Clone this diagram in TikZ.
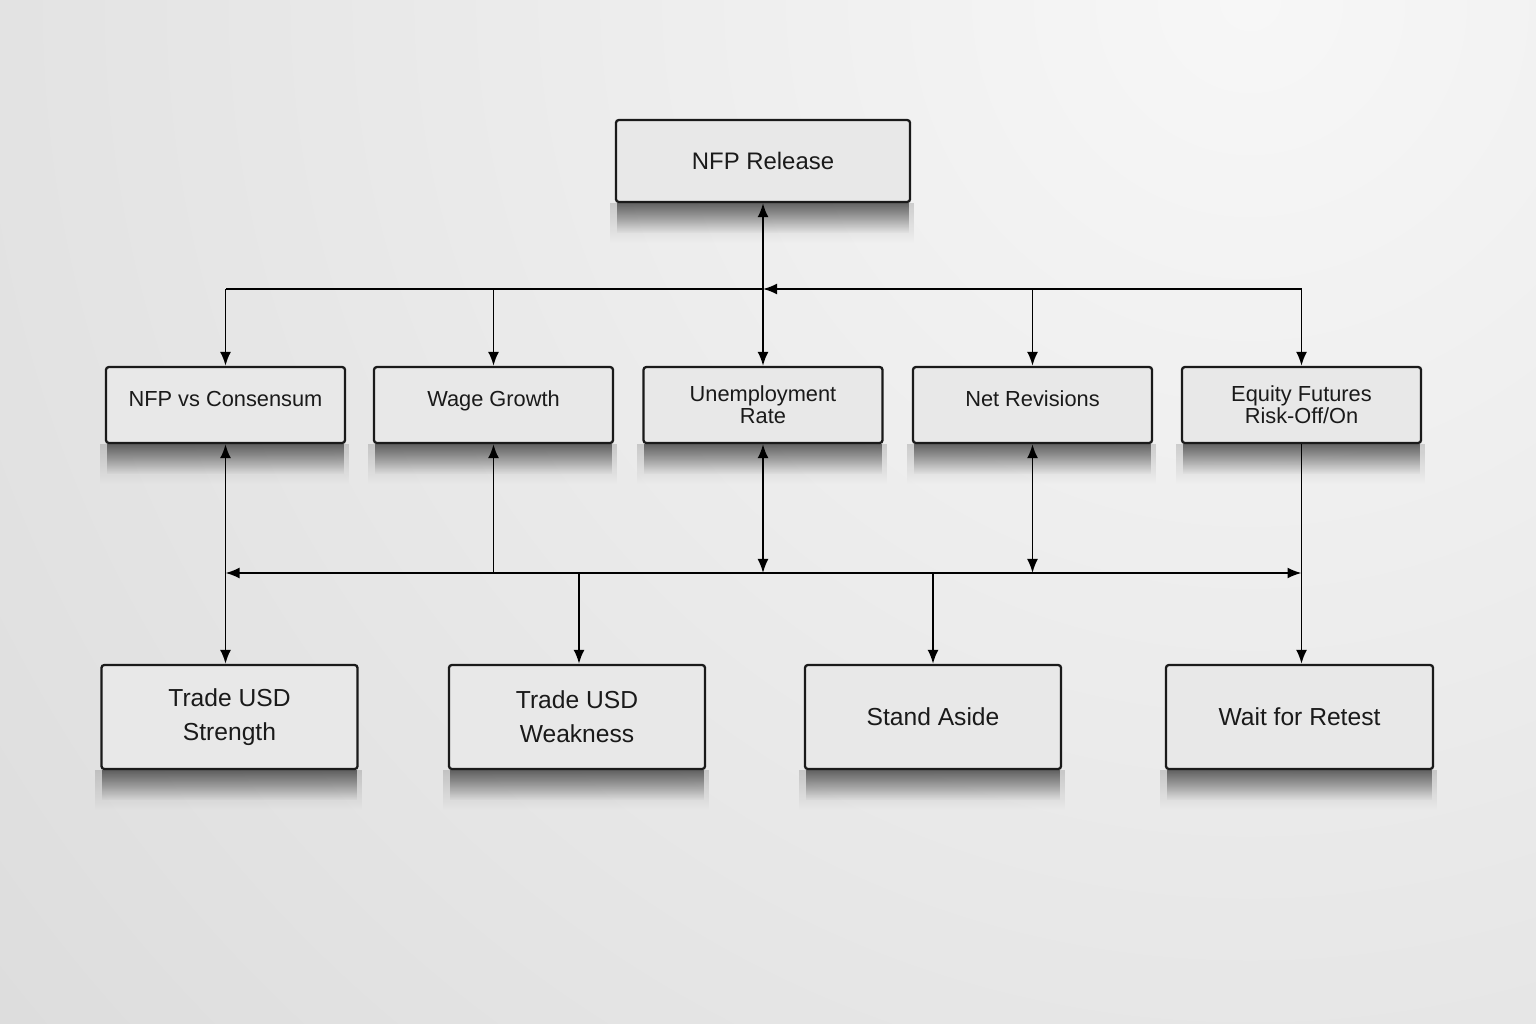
\documentclass[tikz,border=0pt]{standalone}
\usepackage{fontspec}
\setmainfont{Liberation Sans}
\usetikzlibrary{arrows.meta,fadings}
\definecolor{paper}{HTML}{CDCDCD}
\definecolor{paperlight}{HTML}{F7F7F7}
\definecolor{boxfill}{HTML}{E8E8E8}
\definecolor{ink}{HTML}{1A1A1A}
\begin{document}
\begin{tikzpicture}[x=0.01cm,y=-0.01cm,>={Latex[length=0.14cm,width=0.11cm]},line width=0.55pt,
    card/.style={draw=ink,line width=0.65pt,fill=boxfill,rounded corners=0.03cm,align=center,text=ink,inner sep=0pt},
    factor/.style={card,minimum width=2.39cm,minimum height=0.76cm,font=\fontsize{6.2}{6.3}\selectfont},
    oneline/.style={text depth=0.12cm},
    action/.style={card,minimum width=2.56cm,minimum height=1.04cm,font=\fontsize{7}{9.6}\selectfont},
    shade below/.style={fill=black,opacity=0.5,path fading=south},
    shade halo/.style={fill=black,opacity=0.15,path fading=south}]
    \useasboundingbox (0,0) rectangle (1536,1024);
    % paper
    \fill[paper] (0,0) rectangle (1536,1024);
    \begin{scope}
        \clip (0,0) rectangle (1536,1024);
        \shade[inner color=paperlight,outer color=paper] (1250,0) circle (26cm);
    \end{scope}
    % boxes
    \node[card,minimum width=2.94cm,minimum height=0.82cm,font=\fontsize{6.8}{8}\selectfont] (rel) at (763,161) {NFP Release};
    \node[factor,oneline] (cons) at (225.5,405) {NFP vs Consensum};
    \node[factor,oneline] (wage) at (493.5,405) {Wage Growth};
    \node[factor] (unemp) at (763,405) {Unemployment\\Rate};
    \node[factor,oneline] (rev) at (1032.5,405) {Net Revisions};
    \node[factor] (eq) at (1301.5,405) {Equity Futures\\Risk-Off/On};
    \node[action] (strong) at (229.5,717) {Trade USD\\Strength};
    \node[action] (weak) at (577,717) {Trade USD\\Weakness};
    \node[action] (aside) at (933,717) {Stand Aside};
    \node[action,minimum width=2.67cm] (retest) at (1299.5,717) {Wait for Retest};
    % shadows under the boxes
    \foreach \n in {rel,cons,wage,unemp,rev,eq,strong,weak,aside,retest}{
        \fill[shade halo] ([xshift=-0.05cm]\n.south west) rectangle ([xshift=0.03cm,yshift=-0.4cm]\n.south east);
        \fill[shade below] ([xshift=0.02cm]\n.south west) rectangle ([xshift=-0.02cm,yshift=-0.3cm]\n.south east);
    }
    \coordinate (top) at (763,289);
    \coordinate (bus) at (763,573);
    % top fan-out
    \draw[<->] (rel.south) -- (unemp.north);
    \draw[->] (eq |- top) -- (top);
    \draw (top) -- (cons |- top);
    \foreach \n in {cons,wage,rev,eq}
        \draw[->] (\n |- top) -- (\n.north);
    % bottom bus
    \draw[<->] (cons |- bus) -- (eq |- bus);
    \draw[<->] (cons.south) -- (cons.south |- strong.north);
    \draw[<-] (wage.south) -- (wage |- bus);
    \draw[<->] (unemp.south) -- (unemp |- bus);
    \draw[<->] (rev.south) -- (rev |- bus);
    \draw[->] (eq.south) -- (eq.south |- retest.north);
    \draw[->] (579,573) -- (579,0 |- weak.north);
    \draw[->] (aside.north |- bus) -- (aside.north);
\end{tikzpicture}
\end{document}
